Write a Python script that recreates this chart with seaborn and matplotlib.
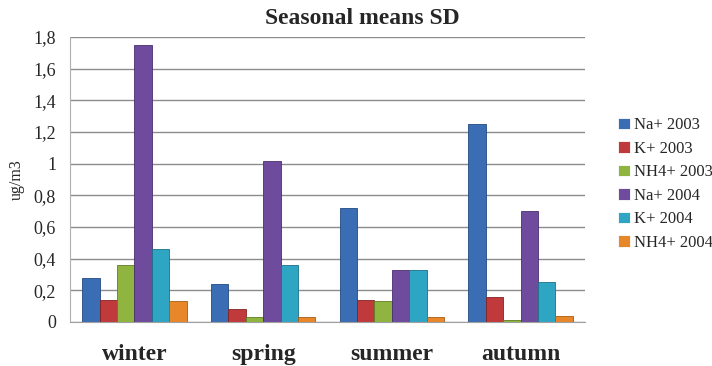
import matplotlib
matplotlib.use("Agg")
import matplotlib.pyplot as plt
import seaborn as sns
import pandas as pd
import numpy as np

seasons = ["winter", "spring", "summer", "autumn"]
series = ["Na+ 2003", "K+ 2003", "NH4+ 2003", "Na+ 2004", "K+ 2004", "NH4+ 2004"]
na_2003 = [0.28, 0.24, 0.72, 1.25]
k_2003 = [0.14, 0.08, 0.14, 0.16]
nh4_2003 = [0.36, 0.03, 0.13, 0.01]
na_2004 = [1.75, 1.02, 0.33, 0.70]
k_2004 = [0.46, 0.36, 0.33, 0.25]
nh4_2004 = [0.13, 0.03, 0.03, 0.04]
yticks = [0, 0.2, 0.4, 0.6, 0.8, 1, 1.2, 1.4, 1.6, 1.8]
ytick_labels = ["0", "0,2", "0,4", "0,6", "0,8", "1", "1,2", "1,4", "1,6", "1,8"]

colors = ["#3b6db4", "#c03a3c", "#8fb440", "#6e4b9c", "#2fa5c4", "#e7872a"]
edges = ["#234a80", "#84211f", "#5e7d22", "#4a2e6e", "#1b7189", "#a95a10"]

values = [na_2003, k_2003, nh4_2003, na_2004, k_2004, nh4_2004]
rows = []
for name, vals in zip(series, values):
    for s, v in zip(seasons, vals):
        rows.append({"season": s, "series": name, "value": v})
df = pd.DataFrame(rows)

sns.set_style("white")
plt.rcParams["font.family"] = ["Liberation Serif", "DejaVu Serif"]

fig = plt.figure(figsize=(7.12, 3.66), dpi=100)
ax = fig.add_axes([70 / 712, (366 - 322) / 366, 515 / 712, (322 - 37) / 366])

sns.barplot(data=df, x="season", y="value", hue="series", order=seasons,
            hue_order=series, palette=colors, width=0.81, ax=ax,
            saturation=1, legend=True, linewidth=0.6)

for cont, ec in zip(ax.containers, edges):
    for bar in cont:
        bar.set_edgecolor(ec)

ax.set_ylim(0, 1.8)
ax.set_yticks(yticks)
ax.set_yticklabels(ytick_labels, fontsize=13)
ax.yaxis.grid(True, color="#8c8c8c", linewidth=1)
ax.set_axisbelow(True)
ax.tick_params(axis="y", length=0, pad=10)

ax.set_xlim(-0.5, 3.5)
ax.set_xticks(np.arange(4))
ax.set_xticklabels(seasons, fontsize=17, fontweight="bold")
ax.tick_params(axis="x", length=0, pad=16)
ax.set_xticks([-0.5, 0.5, 1.5, 2.5, 3.5], minor=True)
ax.tick_params(axis="x", which="minor", length=5, color="#a0a0a0", width=1)
ax.set_xlabel("")
ax.set_ylabel("ug/m3", fontsize=11.5, labelpad=6)

for side in ["top", "right"]:
    ax.spines[side].set_visible(False)
ax.spines["left"].set_color("#b0b0b0")
ax.spines["bottom"].set_color("#a0a0a0")

fig.text(362 / 712, 1 - 18 / 366, "Seasonal means SD", fontsize=17,
         fontweight="bold", ha="center", va="center")

handles, labels = ax.get_legend_handles_labels()
ax.legend(handles, labels, loc="center left", bbox_to_anchor=(1.035, 0.484),
          frameon=False, fontsize=12, handlelength=0.7, handleheight=0.7,
          handletextpad=0.25, labelspacing=0.45)

fig.savefig("out.png", dpi=100)
